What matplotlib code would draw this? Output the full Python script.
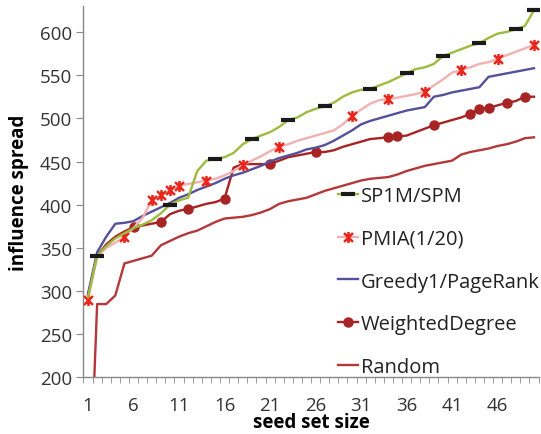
import matplotlib
matplotlib.use("Agg")
import matplotlib.pyplot as plt
import numpy as np
from matplotlib.path import Path

plt.rcParams['font.family'] = ['Open Sans', 'DejaVu Sans']

seed_size = list(range(1, 51))

sp1m = [293, 341, 352, 361, 367, 373, 377, 382, 390, 400,
        405, 408, 439, 451, 453, 455, 460, 470, 476, 480,
        484, 490, 498, 501, 507, 511, 514, 518, 525, 530,
        533, 534, 538, 542, 547, 552, 557, 559, 563, 572,
        576, 580, 584, 587, 593, 598, 600, 603, 607, 625]
sp1m_marks = [2, 10, 15, 19, 23, 27, 32, 36, 40, 44, 48, 50]

pmia = [290, 340, 350, 356, 363, 373, 385, 405, 411, 417,
        422, 424, 426, 428, 430, 434, 439, 446, 451, 456,
        462, 467, 470, 474, 477, 480, 483, 486, 493, 503,
        510, 517, 521, 522, 524, 526, 528, 531, 538, 545,
        553, 556, 559, 563, 565, 569, 573, 577, 581, 585]
pmia_marks = [1, 5, 8, 9, 10, 11, 14, 18, 22, 30, 34, 38, 42, 46, 50]

greedy = [297, 345, 363, 378, 379, 381, 387, 392, 397, 402,
          408, 412, 417, 421, 425, 430, 434, 437, 441, 445,
          450, 454, 457, 460, 464, 466, 469, 474, 480, 486,
          493, 497, 500, 503, 506, 509, 511, 513, 525, 527,
          530, 532, 534, 536, 548, 550, 552, 554, 556, 558]

wdeg = [295, 341, 354, 363, 369, 374, 376, 378, 380, 389,
        393, 395, 398, 401, 403, 407, 443, 447, 447, 447,
        447, 451, 455, 457, 459, 461, 461, 463, 467, 470,
        473, 476, 477, 478, 479, 480, 484, 488, 492, 495,
        498, 501, 505, 511, 512, 515, 518, 520, 525, 525]
wdeg_marks = [6, 9, 12, 16, 21, 26, 34, 35, 39, 43, 44, 45, 47, 49]

rand = [10, 285, 285, 295, 332, 335, 338, 341, 353, 358,
        363, 367, 370, 375, 380, 384, 385, 386, 388, 391,
        395, 401, 404, 406, 408, 412, 416, 419, 422, 425,
        428, 430, 431, 432, 435, 439, 442, 445, 447, 449,
        451, 458, 461, 463, 465, 468, 470, 473, 477, 478]

labels = ["SP1M/SPM", "PMIA(1/20)", "Greedy1/PageRank", "WeightedDegree", "Random"]
y_ticks = [200, 250, 300, 350, 400, 450, 500, 550, 600]
x_ticks = [1, 6, 11, 16, 21, 26, 31, 36, 41, 46]

star = Path([(-1, -1), (1, 1), (-1, 1), (1, -1), (0, -1.25), (0, 1.25)],
            [Path.MOVETO, Path.LINETO, Path.MOVETO, Path.LINETO, Path.MOVETO, Path.LINETO])

fig = plt.figure(figsize=(5.41, 4.35), dpi=100)
ax = fig.add_axes([0.1543, 0.1299, 0.8412, 0.854])

def idx(marks):
    return [m - 1 for m in marks]

ax.plot(seed_size, rand, color='#b4373a', lw=1.7, label=labels[4], zorder=2)
ax.plot(seed_size, wdeg, color='#a82424', lw=1.7, marker='o', ms=6.5,
        markevery=idx(wdeg_marks), label=labels[3], zorder=3)
ax.plot(seed_size, greedy, color='#55509a', lw=1.7, label=labels[2], zorder=3)
ax.plot(seed_size, pmia, color='#f2b1b1', lw=1.7, marker=star, ms=8, mew=1.8,
        mec='#e8261c', mfc='#e8261c', markevery=idx(pmia_marks), label=labels[1], zorder=4)
ax.plot(seed_size, sp1m, color='#9dbb3e', lw=1.7, marker='_', ms=10, mew=3,
        mec='#1a1a1a', markevery=idx(sp1m_marks), label=labels[0], zorder=5)

ax.set_xlim(0.5, 50.5)
ax.set_ylim(200, 630)
ax.set_yticks(y_ticks)
ax.set_xticks(x_ticks)
ax.set_xticks(np.arange(0.5, 51, 1.0), minor=True)
ax.tick_params(axis='x', which='major', length=0, pad=13, labelsize=13.5, colors='#333333')
ax.tick_params(axis='x', which='minor', length=4, direction='out', color='#888888')
ax.tick_params(axis='y', length=5, direction='out', color='#888888', labelsize=13.5,
               labelcolor='#333333', pad=3)
for s in ['top', 'right']:
    ax.spines[s].set_visible(False)
for s in ['left', 'bottom']:
    ax.spines[s].set_color('#888888')
    ax.spines[s].set_linewidth(1.0)

ax.set_xlabel("seed set size", fontsize=13.5, fontweight='bold', labelpad=-1)
ax.set_ylabel("influence spread", fontsize=13.5, fontweight='bold', labelpad=8)

handles, lbls = ax.get_legend_handles_labels()
hmap = dict(zip(lbls, handles))
leg = ax.legend([hmap[l] for l in labels], labels, loc='upper left',
                bbox_to_anchor=(338 / 541, 1 - 187 / 435), bbox_transform=fig.transFigure,
                frameon=False, fontsize=14.5, handlelength=1.0, handletextpad=0.15,
                labelspacing=1.13, borderpad=0, borderaxespad=0, labelcolor='#222222')

fig.savefig("out.png", dpi=100)
